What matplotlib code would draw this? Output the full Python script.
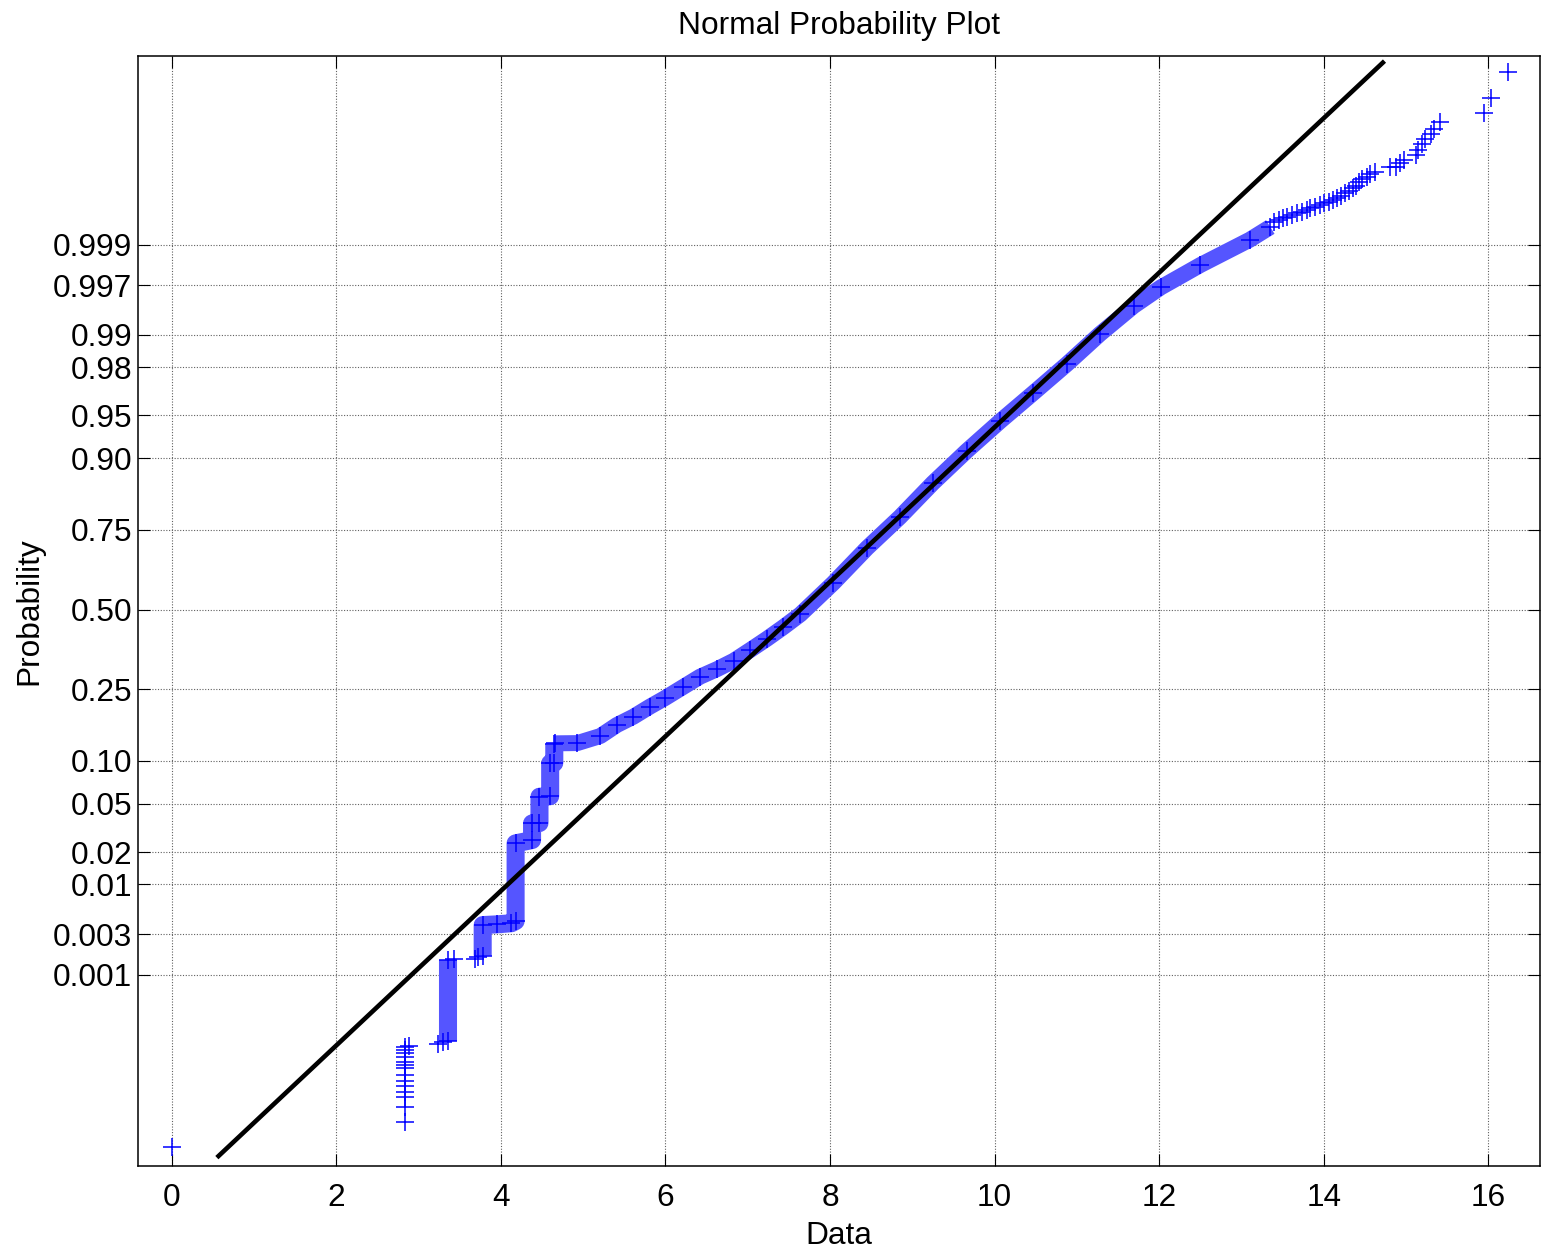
from statistics import NormalDist

import matplotlib
matplotlib.use("Agg")
import matplotlib.pyplot as plt

plt.rcParams['font.family'] = ['Liberation Sans', 'DejaVu Sans']

# probability axis ticks
prob_ticks = [0.001, 0.003, 0.01, 0.02, 0.05, 0.10, 0.25, 0.50,
              0.75, 0.90, 0.95, 0.98, 0.99, 0.997, 0.999]
prob_labels = ['0.001', '0.003', '0.01', '0.02', '0.05', '0.10', '0.25', '0.50',
               '0.75', '0.90', '0.95', '0.98', '0.99', '0.997', '0.999']
data_ticks = [0, 2, 4, 6, 8, 10, 12, 14, 16]

# normal fit of the sample (mean, std) and the quantile span of the reference line
fit_mu = 7.64
fit_sigma = 1.528
fit_z_ends = [-4.64, 4.645]

# sorted data vs. normal quantile of plotting position
# isolated low values (incl. tied group at 2.84)
low_x = [0.0, 2.84, 2.84, 2.84, 2.84, 2.84, 2.84, 2.84, 2.84, 2.84, 2.84,
         2.84, 2.84, 2.84, 2.84, 2.89, 3.24, 3.30, 3.43, 3.69, 3.72]
low_z = [-4.553, -4.336, -4.209, -4.130, -4.082, -4.034, -3.989, -3.941,
         -3.884, -3.856, -3.828, -3.791, -3.757, -3.729, -3.701, -3.693,
         -3.675, -3.665, -2.962, -2.958, -2.945]

# tied group at 3.36
tie_x = [3.36, 3.36]
tie_z = [-3.653, -2.967]

# step run of ties 3.78 ... 4.65
step_x = [3.78, 3.78, 3.95, 4.13, 4.18, 4.18, 4.38, 4.38, 4.47, 4.47,
          4.60, 4.60, 4.65, 4.65]
step_z = [-2.930, -2.671, -2.665, -2.655, -2.637, -1.979, -1.951, -1.810,
          -1.807, -1.584, -1.580, -1.301, -1.298, -1.140]

# dense body of the sample
band_x = [4.66, 4.93, 5.21, 5.41, 5.61, 5.81, 5.99, 6.22, 6.42, 6.63, 6.83,
          7.03, 7.23, 7.43, 7.64, 8.04, 8.45, 8.85, 9.25, 9.66, 10.07, 10.47,
          10.88, 11.28, 11.69, 12.02, 12.50, 13.10, 13.35]
band_z = [-1.132, -1.130, -1.070, -0.977, -0.907, -0.822, -0.751, -0.653,
          -0.568, -0.503, -0.433, -0.342, -0.249, -0.150, -0.040, 0.225,
          0.522, 0.784, 1.072, 1.343, 1.597, 1.834, 2.080, 2.334, 2.571,
          2.729, 2.918, 3.132, 3.240]

# upper tail
tail_x = [13.40, 13.45, 13.50, 13.55, 13.61, 13.67, 13.73, 13.79, 13.83,
          13.89, 13.95, 14.00, 14.06, 14.11, 14.16, 14.21, 14.26, 14.31,
          14.35, 14.39, 14.43, 14.47, 14.52, 14.56, 14.62, 14.81, 14.88,
          14.93, 14.98, 15.12, 15.15, 15.19, 15.23, 15.30, 15.34, 15.41,
          15.95, 16.03, 16.24]
tail_z = [3.285, 3.299, 3.313, 3.327, 3.341, 3.356, 3.369, 3.384, 3.398,
          3.412, 3.426, 3.440, 3.454, 3.468, 3.483, 3.505, 3.525, 3.544,
          3.567, 3.589, 3.618, 3.646, 3.666, 3.686, 3.708, 3.745, 3.750,
          3.779, 3.807, 3.849, 3.892, 3.940, 3.985, 4.025, 4.069, 4.131,
          4.207, 4.329, 4.552]

FS = 22.8
MARK = dict(ls='none', marker='+', ms=13.5, mew=1.1, color='blue', zorder=3)
RUN = dict(color='#5555ff', solid_capstyle='butt', solid_joinstyle='round', zorder=2)

nd = NormalDist()

fig = plt.figure(figsize=(15.41, 12.5), dpi=100)
ax = fig.add_axes([0.0894, 0.0672, 0.9100, 0.888])

# densely packed markers read as a solid band
ax.plot(tie_x, tie_z, lw=13, **RUN)
ax.plot(step_x, step_z, lw=13, **RUN)
ax.plot(band_x, band_z, lw=11.5, **RUN)

for xs, zs in [(low_x, low_z), (tie_x, tie_z), (step_x, step_z),
               (band_x, band_z), (tail_x, tail_z)]:
    ax.plot(xs, zs, **MARK)

# reference line through the fitted normal
fit_x = [fit_mu + fit_sigma * z for z in fit_z_ends]
ax.plot(fit_x, fit_z_ends, color='black', lw=3.3, solid_capstyle='butt', zorder=4)

ax.set_xlim(-0.411, 16.628)
ax.set_ylim(-4.711, 4.688)
ax.set_xticks(data_ticks)
ax.set_xticklabels([str(t) for t in data_ticks])
ax.set_yticks([nd.inv_cdf(p) for p in prob_ticks])
ax.set_yticklabels(prob_labels)

ax.tick_params(direction='in', length=8.4, width=0.8, top=True, right=True,
               labelsize=FS)
ax.tick_params(axis='x', pad=12)
ax.tick_params(axis='y', pad=4)
ax.grid(True, color='#606060', lw=0.8, ls=(0, (1, 1.5)))
for sp in ax.spines.values():
    sp.set_linewidth(1.1)

ax.set_title('Normal Probability Plot', fontsize=FS, pad=16)
ax.set_xlabel('Data', fontsize=FS, labelpad=6)
ax.set_ylabel('Probability', fontsize=FS, labelpad=6)

fig.savefig('out.png', dpi=100)
